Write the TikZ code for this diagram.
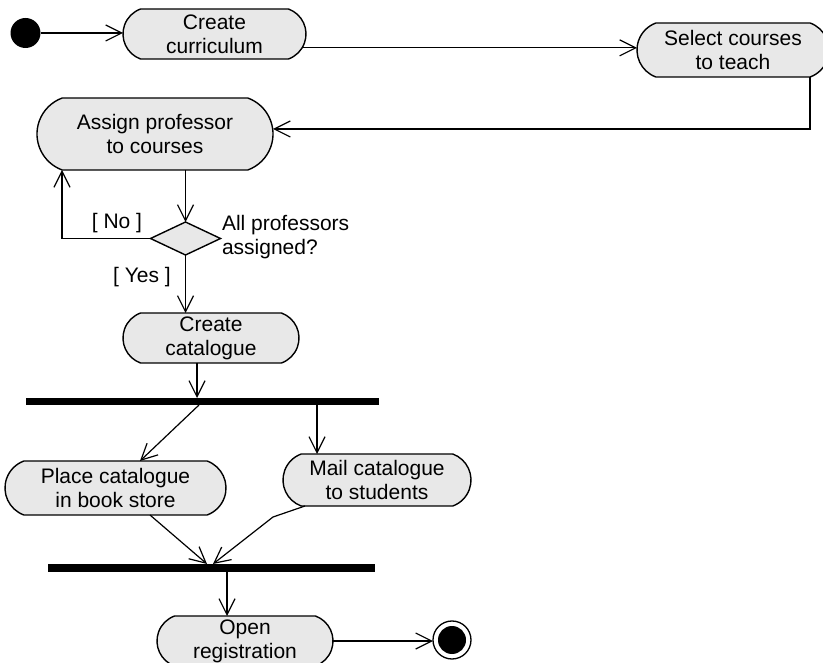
\documentclass[tikz,border=0pt]{standalone}
\usepackage{fontspec}
\setmainfont{Liberation Sans}
\usetikzlibrary{shapes.misc,shapes.geometric,arrows.meta,calc}
\definecolor{actfill}{RGB}{232,232,232}
\begin{document}
\begin{tikzpicture}[x=1pt,y=-1pt,
  line width=1.2pt,
  font=\fontsize{21}{24}\selectfont,
  act/.style={rounded rectangle, rounded rectangle arc length=140, draw,
    fill=actfill, line width=1.4pt, inner sep=0pt, outer sep=0pt, align=center},
  choice/.style={diamond, draw, fill=actfill, line width=1.4pt, inner sep=0pt,
    outer sep=0pt, minimum width=70pt, minimum height=33pt},
  syncbar/.style={rectangle, fill=black, inner sep=0pt, outer sep=0pt},
  guard/.style={inner sep=0pt, outer sep=0pt},
  arr/.style={-{Straight Barb[length=16pt,width=16pt,line width=1.2pt]}}
]
\useasboundingbox (0,0) rectangle (823,663);

% initial and final states
\node[circle, fill=black, minimum size=30pt, inner sep=0pt, outer sep=0pt] (start) at (25.5,33) {};
\node[circle, draw, line width=1.3pt, minimum size=38pt, inner sep=0pt, outer sep=0pt] (endc) at (452,640) {};
\fill[black] (endc.center) circle (14pt);

% activities
\node[act, minimum width=183pt, minimum height=50pt] (cc) at (214.5,34) {Create\\curriculum};
\node[act, minimum width=192pt, minimum height=54pt] (sc) at (733,50) {Select courses\\to teach};
\node[act, minimum width=236pt, minimum height=72pt] (ap) at (155,134) {Assign professor\\to courses};
\node[act, minimum width=176pt, minimum height=50pt] (ccat) at (211,338) {Create\\catalogue};
\node[act, minimum width=221pt, minimum height=54pt] (pc) at (115.5,488) {Place catalogue\\in book store};
\node[act, minimum width=188pt, minimum height=52pt] (mc) at (377,480) {Mail catalogue\\to students};
\node[act, minimum width=176pt, minimum height=50pt] (openreg) at (245,641) {Open\\registration};

% decision
\node[choice] (dm) at (185.5,238.5) {};
\node[guard, anchor=west, align=left] (lq) at (222,237) {All professors\\assigned?};
\node[guard] (lno) at (117,223) {[ No ]};
\node[guard] (lyes) at (142,277) {[ Yes ]};

% fork and join bars
\node[syncbar, minimum width=353pt, minimum height=7pt] (bar1) at (202.5,401.5) {};
\node[syncbar, minimum width=327pt, minimum height=8pt] (bar2) at (211.5,568) {};

% helper coordinates for connector routing
\coordinate (k1) at (810,129);
\coordinate (k2) at (62,238.5);
\coordinate (k3) at (273,517);
\coordinate (x1) at (197,0);
\coordinate (x2) at (199,0);
\coordinate (x3) at (140,0);
\coordinate (x4) at (317,0);
\coordinate (x5) at (150,0);
\coordinate (x6) at (207,0);
\coordinate (x7) at (305,0);
\coordinate (x8) at (213,0);
\coordinate (x9) at (227,0);

% transitions
\draw[arr] (start.east) -- (start.east -| cc.west);
\draw[arr] (cc.-9) -- (cc.-9 -| sc.west);
\draw[arr] (k1 |- sc.south) -- (k1) -- (k1 -| ap.east);
\draw[arr] (ap.south -| dm.north) -- (dm.north);
\draw[arr] (dm.west) -- (k2) -- (k2 |- ap.south);
\draw[arr] (dm.south) -- (dm.south |- ccat.north);
\draw[arr] (ccat.south -| x1) -- (bar1.north -| x1);
\draw[arr] (bar1.south -| x2) -- (pc.north -| x3);
\draw[arr] (bar1.south -| x4) -- (mc.north -| x4);
\draw[arr] (pc.south -| x5) -- (bar2.north -| x6);
\draw[arr] (mc.south -| x7) -- (k3) -- (bar2.north -| x8);
\draw[arr] (bar2.south -| x9) -- (openreg.north -| x9);
\draw[arr] (openreg.east) -- (openreg.east -| endc.west);
\end{tikzpicture}
\end{document}
